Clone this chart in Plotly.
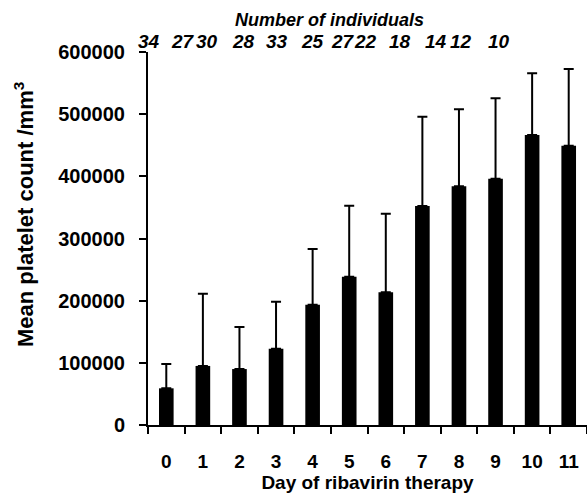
import plotly.graph_objects as go

days = ["0", "1", "2", "3", "4", "5", "6", "7", "8", "9", "10", "11"]
mean_platelets = [59000, 95000, 90000, 122700, 193500, 238500, 213400, 352300, 384000, 396000, 466500, 449300]
sd_upper = [39000, 116000, 67600, 75600, 89500, 114200, 126500, 143700, 124000, 129500, 99200, 123300]
n_individuals = ["34", "27", "30", "28", "33", "25", "27", "22", "18", "14", "12", "10"]

W, H = 587, 496
L, R, T, B = 148, 0, 52, 71
PW, PH = W - L - R, H - T - B

FONT = "Liberation Sans, Arial, sans-serif"


def px_x(px):
    return (px - L) / PW


def px_y(py):
    return (H - B - py) / PH


fig = go.Figure()
fig.add_trace(go.Bar(
    x=days, y=mean_platelets, width=0.4,
    marker=dict(color="black", line=dict(width=0)),
    error_y=dict(type="data", symmetric=False, array=sd_upper,
                 arrayminus=[0] * len(days), color="black",
                 thickness=2, width=5),
    showlegend=False,
    hoverinfo="skip",
))

# label pixel centers (layout only)
label_px = [149, 183, 207, 243, 277, 312, 343, 365, 400, 436, 461, 499]
annotations = []
for txt, px in zip(n_individuals, label_px):
    annotations.append(dict(
        text=txt, x=px_x(px), y=px_y(42),
        xref="paper", yref="paper", xanchor="center", yanchor="middle",
        showarrow=False,
        font=dict(family=FONT, size=19, color="black", weight="bold", style="italic"),
    ))
annotations.append(dict(
    text="Number of individuals", x=px_x(329), y=px_y(20),
    xref="paper", yref="paper", xanchor="center", yanchor="middle",
    showarrow=False,
    font=dict(family=FONT, size=18, color="black", weight="bold", style="italic"),
))
annotations.append(dict(
    text="Mean platelet count /mm<sup>3</sup>", textangle=-90,
    x=px_x(24), y=px_y(215),
    xref="paper", yref="paper", xanchor="center", yanchor="middle",
    showarrow=False,
    font=dict(family=FONT, size=22, color="black", weight="bold"),
))

fig.update_layout(
    width=W, height=H,
    margin=dict(l=L, r=R, t=T, b=B, autoexpand=False),
    paper_bgcolor="white", plot_bgcolor="white",
    font=dict(family=FONT, color="black"),
    annotations=annotations,
)
fig.update_xaxes(
    type="category", range=[-0.5, 11.5],
    showline=True, linecolor="black", linewidth=2,
    ticks="outside", tickson="boundaries", ticklen=7, tickwidth=2, tickcolor="black",
    tickfont=dict(family=FONT, size=19, weight="bold", color="black"),
    ticklabelstandoff=18,
    showgrid=False, zeroline=False,
    title=dict(text="Day of ribavirin therapy", standoff=2,
               font=dict(family=FONT, size=19, weight="bold", color="black")),
)
fig.update_yaxes(
    range=[0, 600000], dtick=100000, tickformat="d",
    showline=True, linecolor="black", linewidth=2,
    ticks="outside", ticklen=7, tickwidth=2, tickcolor="black",
    tickfont=dict(family=FONT, size=20, weight="bold", color="black"),
    ticklabelstandoff=10,
    showgrid=False, zeroline=False,
)

fig.write_html("out.html", config={"displayModeBar": False},
               post_script="document.body.style.margin='0';")
